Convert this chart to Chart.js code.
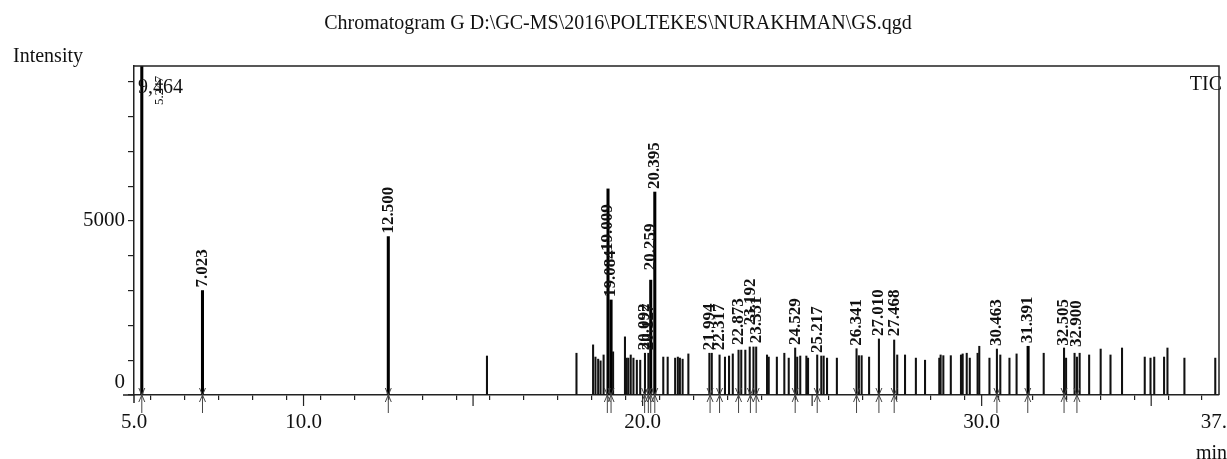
<!DOCTYPE html>
<html>
<head>
<meta charset="utf-8">
<script src="https://cdn.jsdelivr.net/npm/chart.js@4.4.1/dist/chart.umd.min.js"></script>
<style>
  html, body { margin: 0; padding: 0; background: #fff; }
  canvas { display: block; }
</style>
</head>
<body>
<canvas id="chromChart" width="1227" height="459"></canvas>
<script>
// retention time (min) / intensity of the small TIC peaks
var thinTimes = [15.41, 18.05, 18.54, 18.61, 18.69, 18.76, 18.85, 19.13, 19.48, 19.53,
  19.58, 19.65, 19.73, 19.83, 19.93, 20.07, 20.17, 20.61, 20.74, 20.96,
  21.04, 21.10, 21.18, 21.35, 21.97, 22.04, 22.27, 22.43, 22.55, 22.66,
  22.83, 22.91, 23.03, 23.16, 23.27, 23.35, 23.67, 23.72, 23.96, 24.18,
  24.31, 24.50, 24.56, 24.65, 24.83, 24.88, 25.15, 25.27, 25.34, 25.44,
  25.73, 26.31, 26.38, 26.46, 26.68, 26.97, 27.42, 27.51, 27.74, 28.06,
  28.33, 28.75, 28.79, 28.87, 29.09, 29.39, 29.44, 29.56, 29.65, 29.88,
  29.93, 30.23, 30.45, 30.55, 30.82, 31.03, 31.83, 32.43, 32.49, 32.74,
  32.81, 32.89, 33.17, 33.51, 33.80, 34.14, 34.81, 34.98, 35.09, 35.38,
  35.48, 35.98, 36.89];
var thinHeights = [1120, 1200, 1440, 1090, 1030, 980, 1150, 1240, 1670, 1060,
  1060, 1150, 1060, 1000, 1000, 1200, 1200, 1090, 1090, 1060,
  1090, 1060, 1030, 1180, 1200, 1200, 1150, 1090, 1120, 1180,
  1290, 1290, 1290, 1380, 1380, 1380, 1150, 1090, 1090, 1200,
  1060, 1350, 1090, 1120, 1120, 1060, 1150, 1120, 1120, 1060,
  1060, 1330, 1130, 1130, 1090, 1610, 1580, 1150, 1150, 1060,
  1000, 1060, 1150, 1130, 1130, 1150, 1180, 1200, 1060, 1200,
  1400, 1060, 1320, 1150, 1060, 1180, 1200, 1350, 1060, 1200,
  1090, 1200, 1150, 1320, 1150, 1350, 1090, 1060, 1090, 1090,
  1350, 1060, 1060];

// the big peaks
var boldTimes = [5.23, 7.02, 12.50, 18.98, 19.07, 20.24, 20.36, 31.37];
var boldHeights = [9900, 3000, 4550, 5920, 2730, 3300, 5830, 1400];

// peak labels: text, retention time, intensity where the label starts
var labelTexts = ['7.023', '12.500', '19.009', '19.084', '20.092', '20.127', '20.259', '20.395',
  '21.994', '22.317', '22.873', '23.192', '23.351', '24.529', '25.217', '26.341',
  '27.010', '27.468', '30.463', '31.391', '32.505', '32.900'];
var labelTimes = [7.02, 12.50, 18.96, 19.07, 20.06, 20.17, 20.24, 20.36,
  21.99, 22.27, 22.83, 23.18, 23.35, 24.50, 25.15, 26.31,
  26.97, 27.42, 30.45, 31.36, 32.43, 32.81];
var labelAnchors = [3000, 4550, 4050, 2730, 1200, 1200, 3500, 5830,
  1200, 1200, 1350, 1920, 1400, 1350, 1120, 1330,
  1610, 1600, 1320, 1400, 1330, 1290];

var xTickLabels = [5, 10, 20, 30, 37];
var yTickValues = [0, 1000, 2000, 3000, 4000, 5000, 6000, 7000, 8000, 9000];
var yTickLabels = [0, 5000];

function toPoints(times, heights) {
  return times.map(function (t, i) { return { x: t, y: heights[i] }; });
}

var serif = '"Liberation Serif", "Times New Roman", serif';
Chart.defaults.font.family = serif;
Chart.defaults.color = '#111';

var chromDecor = {
  id: 'chromDecor',
  beforeDraw: function (chart) {
    var ctx = chart.ctx;
    ctx.save();
    ctx.fillStyle = '#fff';
    ctx.fillRect(0, 0, chart.width, chart.height);
    ctx.restore();
  },
  afterDraw: function (chart) {
    var ctx = chart.ctx, a = chart.chartArea;
    var xs = chart.scales.x, ys = chart.scales.y;
    var base = ys.getPixelForValue(0);
    ctx.save();

    // frame
    ctx.strokeStyle = '#222';
    ctx.lineWidth = 1.5;
    ctx.beginPath();
    ctx.moveTo(a.left, a.top);
    ctx.lineTo(a.right, a.top);
    ctx.lineTo(a.right, base);
    ctx.moveTo(a.left, base);
    ctx.lineTo(a.left, base + 8);
    ctx.moveTo(a.left - 11, base);
    ctx.lineTo(a.left, base);
    ctx.stroke();

    // longer ticks every 5 min
    ctx.lineWidth = 1.2;
    ctx.beginPath();
    for (var v = 10; v < 37; v += 5) {
      var tx = xs.getPixelForValue(v);
      ctx.moveTo(tx, base);
      ctx.lineTo(tx, base + 11);
    }
    ctx.stroke();

    // peak start markers
    ctx.strokeStyle = '#444';
    ctx.lineWidth = 1;
    [5.23].concat(labelTimes).forEach(function (t) {
      var px = xs.getPixelForValue(t);
      ctx.beginPath();
      ctx.moveTo(px - 3, base - 7); ctx.lineTo(px, base); ctx.lineTo(px + 3, base - 7);
      ctx.moveTo(px - 3, base + 7); ctx.lineTo(px, base); ctx.lineTo(px + 3, base + 7);
      ctx.moveTo(px, base); ctx.lineTo(px, base + 18);
      ctx.stroke();
    });

    // rotated peak labels
    ctx.fillStyle = '#111';
    ctx.font = 'bold 17px ' + serif;
    ctx.textAlign = 'left';
    ctx.textBaseline = 'middle';
    labelTexts.forEach(function (txt, i) {
      var px = xs.getPixelForValue(labelTimes[i]);
      var py = ys.getPixelForValue(labelAnchors[i]) - 3;
      ctx.save();
      ctx.translate(px, py);
      ctx.rotate(-Math.PI / 2);
      ctx.fillText(txt, 0, 0);
      ctx.restore();
    });

    // off-scale first peak
    ctx.font = '20px ' + serif;
    ctx.textBaseline = 'alphabetic';
    ctx.fillText('9,464', a.left + 4, a.top + 27);
    ctx.font = '13px ' + serif;
    ctx.save();
    ctx.translate(xs.getPixelForValue(5.23) + 18, a.top + 39);
    ctx.rotate(-Math.PI / 2);
    ctx.textBaseline = 'middle';
    ctx.fillText('5.247', 0, 0);
    ctx.restore();

    // titles
    ctx.font = '20px ' + serif;
    ctx.textAlign = 'center';
    ctx.fillText('Chromatogram G D:\\GC-MS\\2016\\POLTEKES\\NURAKHMAN\\GS.qgd', 618, 29);
    ctx.textAlign = 'left';
    ctx.fillText('Intensity', 13, 62);
    ctx.fillText('min', 1196, 459);
    ctx.textAlign = 'right';
    ctx.fillText('TIC', a.right + 3, a.top + 24);
    ctx.restore();
  }
};

var ctx = document.getElementById('chromChart').getContext('2d');
var chromChart = new Chart(ctx, {
  type: 'bar',
  data: {
    datasets: [
      {
        data: toPoints(thinTimes, thinHeights),
        backgroundColor: '#111',
        barThickness: 1.4,
        grouped: false
      },
      {
        data: toPoints(boldTimes, boldHeights),
        backgroundColor: '#000',
        barThickness: 2.4,
        grouped: false
      }
    ]
  },
  options: {
    responsive: false,
    animation: false,
    layout: { padding: { top: 66, right: 8, left: 0, bottom: 0 } },
    plugins: {
      legend: { display: false },
      tooltip: { enabled: false }
    },
    scales: {
      x: {
        type: 'linear',
        min: 5,
        max: 37,
        offset: false,
        grid: { drawOnChartArea: false, tickLength: 5, color: '#222', lineWidth: 1.2 },
        border: { color: '#222', width: 1.5 },
        ticks: {
          stepSize: 1,
          autoSkip: false,
          maxRotation: 0,
          padding: 10,
          font: { size: 21 },
          color: '#111',
          callback: function (v) { return xTickLabels.indexOf(v) >= 0 ? v.toFixed(1) : ''; }
        },
        afterFit: function (s) { s.height = 64; s.paddingLeft = 0; s.paddingRight = 0; }
      },
      y: {
        min: 0,
        max: 9450,
        grid: { drawOnChartArea: false, tickLength: 6, color: '#222', lineWidth: 1.2 },
        border: { color: '#222', width: 1.5 },
        afterBuildTicks: function (s) {
          s.ticks = yTickValues.map(function (v) { return { value: v }; });
        },
        ticks: {
          autoSkip: false,
          padding: 3,
          font: { size: 21 },
          color: '#111',
          callback: function (v) {
            if (yTickLabels.indexOf(v) < 0) return '';
            return v === 0 ? ['0', ''] : String(v);
          }
        },
        afterFit: function (s) { s.width = 134; s.paddingTop = 0; s.paddingBottom = 0; }
      }
    }
  },
  plugins: [chromDecor]
});
</script>
</body>
</html>
